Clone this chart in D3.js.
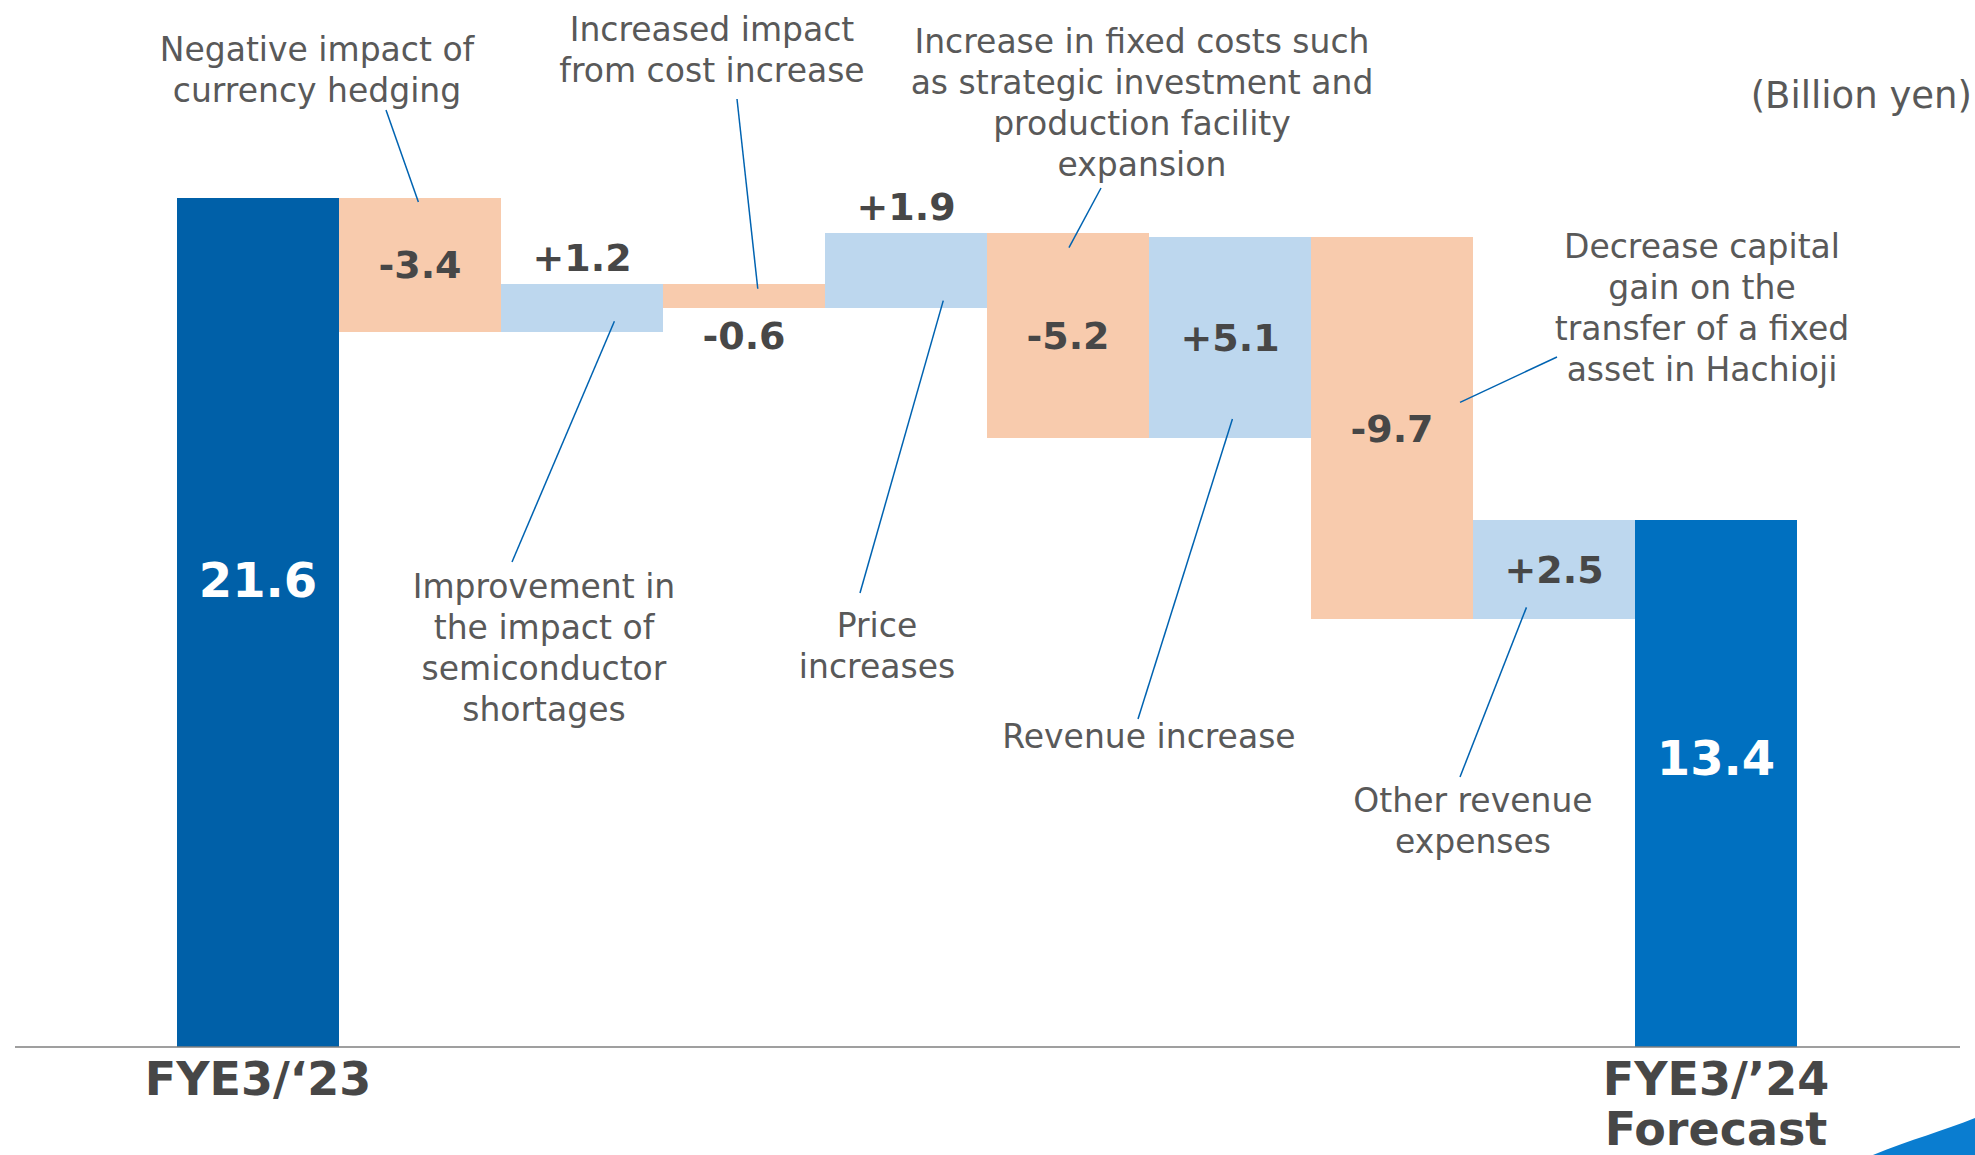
<!DOCTYPE html>
<html>
<head>
<meta charset="utf-8">
<script src="https://cdn.jsdelivr.net/npm/d3@7"></script>
<style>
  body { margin: 0; background: #fff; }
  svg { display: block; font-family: "DejaVu Sans", Verdana, sans-serif; }
</style>
</head>
<body>
<svg id="chart" width="1975" height="1155"></svg>
<script>
// --- data ---
const steps = ["FYE3/‘23", "hedging", "semiconductor", "cost", "price", "fixed", "revenue", "hachioji", "other", "FYE3/’24"];
const values = [21.6, -3.4, 1.2, -0.6, 1.9, -5.2, 5.1, -9.7, 2.5, 13.4];
const kinds = ["total", "delta", "delta", "delta", "delta", "delta", "delta", "delta", "delta", "total"];
const valueLabels = ["21.6", "-3.4", "+1.2", "-0.6", "+1.9", "-5.2", "+5.1", "-9.7", "+2.5", "13.4"];
const tickLabels = [["FYE3/‘23"], ["FYE3/’24", "Forecast"]];
const unitLabel = "(Billion yen)";

// callout texts, by step they point at
const callouts = [
  { step: "hedging", lines: ["Negative impact of", "currency hedging"] },
  { step: "cost", lines: ["Increased impact", "from cost increase"] },
  { step: "fixed", lines: ["Increase in fixed costs such", "as strategic investment and", "production facility", "expansion"] },
  { step: "hachioji", lines: ["Decrease capital", "gain on the", "transfer of a fixed", "asset in Hachioji"] },
  { step: "semiconductor", lines: ["Improvement in", "the impact of", "semiconductor", "shortages"] },
  { step: "price", lines: ["Price", "increases"] },
  { step: "revenue", lines: ["Revenue increase"] },
  { step: "other", lines: ["Other revenue", "expenses"] },
];

// callout layout (text centre, first baseline, leader start, leader end inside bar as fraction)
const calloutLayout = [
  { cx: 317, y: 61, lx: 386, ly: 110, fx: 0.49, fy: 0.03 },
  { cx: 712, y: 41, lx: 737, ly: 99, fx: 0.585, fy: 0.18 },
  { cx: 1142, y: 53, lx: 1101, ly: 188, fx: 0.506, fy: 0.07 },
  { cx: 1702, y: 258, lx: 1557, ly: 357, fx: 0.92, fy: 0.433 },
  { cx: 544, y: 598, lx: 512, ly: 562, fx: 0.70, fy: 0.78 },
  { cx: 877, y: 637, lx: 860, ly: 593, fx: 0.73, fy: 0.90 },
  { cx: 1149, y: 748, lx: 1138, ly: 719, fx: 0.515, fy: 0.906 },
  { cx: 1473, y: 812, lx: 1460, ly: 777, fx: 0.33, fy: 0.886 },
];

// --- build waterfall ---
let running = 0;
const bars = steps.map((s, i) => {
  let lo, hi;
  if (kinds[i] === "total") {
    lo = 0; hi = values[i]; running = values[i];
  } else {
    const start = running;
    running += values[i];
    lo = Math.min(start, running); hi = Math.max(start, running);
  }
  return { step: s, value: values[i], kind: kinds[i], lo, hi, label: valueLabels[i], i };
});

const svg = d3.select("#chart");
const x = d3.scaleBand().domain(steps).range([177, 1797]).padding(0);
const y = d3.scaleLinear().domain([0, 21.6]).range([1047, 198]);

const fill = (d) => {
  if (d.kind === "total") return d.i === 0 ? "#0060A8" : "#0070C0";
  return d.value < 0 ? "#F8CBAD" : "#BDD7EE";
};

svg.append("g").selectAll("rect").data(bars).join("rect")
  .attr("x", (d) => x(d.step))
  .attr("width", x.bandwidth())
  .attr("y", (d) => y(d.hi))
  .attr("height", (d) => y(d.lo) - y(d.hi))
  .attr("fill", fill)
  .attr("shape-rendering", "crispEdges");

// baseline
svg.append("line")
  .attr("x1", 15).attr("x2", 1960)
  .attr("y1", y(0)).attr("y2", y(0))
  .attr("stroke", "#7f7f7f").attr("stroke-width", 1.5);

// value labels
svg.append("g").selectAll("text").data(bars).join("text")
  .attr("text-anchor", "middle")
  .attr("font-weight", "bold")
  .attr("x", (d) => x(d.step) + x.bandwidth() / 2)
  .attr("y", (d) => {
    if (d.kind === "total") return y(d.value * 0.55);
    if (Math.abs(d.value) < 2) return d.value > 0 ? y(d.hi) - 27 : y(d.lo) + 27;
    return y((d.lo + d.hi) / 2);
  })
  .attr("dy", "0.36em")
  .attr("font-size", (d) => (d.kind === "total" ? 48 : 38))
  .attr("fill", (d) => (d.kind === "total" ? "#ffffff" : "#474747"))
  .text((d) => d.label);

// category axis (totals only)
const axis = d3.axisBottom(x)
  .tickValues([steps[0], steps[steps.length - 1]])
  .tickSize(0)
  .tickFormat(() => "");
const gx = svg.append("g").attr("transform", `translate(0,${y(0)})`).call(axis);
gx.select(".domain").remove();
gx.selectAll(".tick text").each(function (d, k) {
  const t = d3.select(this)
    .attr("y", 48).attr("dy", 0)
    .attr("font-size", 46).attr("font-weight", "bold")
    .attr("fill", "#474747")
    .attr("font-family", "'DejaVu Sans', Verdana, sans-serif");
  tickLabels[k].forEach((line, j) => {
    t.append("tspan").attr("x", 0).attr("y", 48 + j * 50).text(line);
  });
});

// unit label
svg.append("text")
  .attr("x", 1972).attr("y", 108)
  .attr("text-anchor", "end")
  .attr("font-size", 37).attr("fill", "#595959")
  .text(unitLabel);

// callouts
const byStep = new Map(bars.map((b) => [b.step, b]));
const cg = svg.append("g");
callouts.forEach((c, k) => {
  const L = calloutLayout[k];
  const b = byStep.get(c.step);
  const ex = x(b.step) + L.fx * x.bandwidth();
  const ey = y(b.hi) + L.fy * (y(b.lo) - y(b.hi));
  cg.append("line")
    .attr("x1", L.lx).attr("y1", L.ly)
    .attr("x2", ex).attr("y2", ey)
    .attr("stroke", "#0063B1").attr("stroke-width", 1.5);
  const t = cg.append("text")
    .attr("text-anchor", "middle")
    .attr("font-size", 33).attr("fill", "#595959");
  c.lines.forEach((line, j) => {
    t.append("tspan").attr("x", L.cx).attr("y", L.y + j * 41).text(line);
  });
});

// template corner swoosh
svg.append("path")
  .attr("d", "M1873,1155 C1910,1140 1945,1130 1975,1118 L1975,1155 Z")
  .attr("fill", "#0A7DD0");
</script>
</body>
</html>
